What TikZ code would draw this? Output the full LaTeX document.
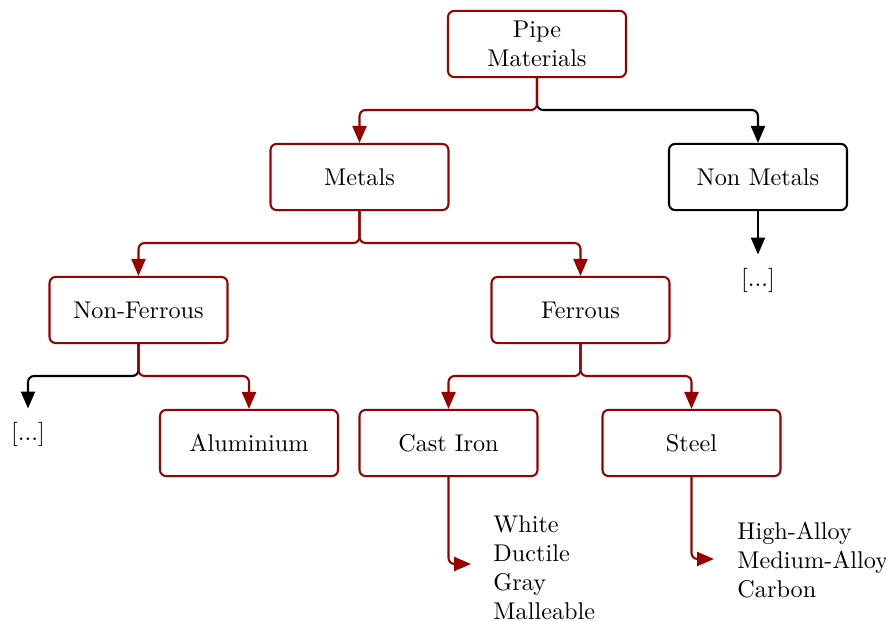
\documentclass[tikz,border=0pt]{standalone}
\usetikzlibrary{arrows.meta}
\definecolor{dred}{RGB}{153,0,0}
\begin{document}
\begin{tikzpicture}[x=0.413pt,y=-0.413pt,
  box/.style={draw=dred,line width=0.85pt,rounded corners=2.5pt,minimum width=73.5pt,minimum height=27.3pt,align=center,inner sep=2pt},
  bbox/.style={box,draw=black},
  conn/.style={draw=dred,line width=0.85pt,rounded corners=2.5pt,-{Triangle[length=7pt,width=5.8pt]}},
  bconn/.style={conn,draw=black},
  leaf/.style={align=left,anchor=west,inner sep=0pt}]
\useasboundingbox (0,0) rectangle (886,621);
\node[box] (pipe) at (537,44) {Pipe\\Materials};
\node[box] (metals) at (359.5,177) {Metals};
\node[bbox] (nonmetals) at (758,177) {Non Metals};
\node[box] (nonferrous) at (138.5,310) {Non-Ferrous};
\node[box] (ferrous) at (580.5,310) {Ferrous};
\node[box] (alu) at (249,443) {Aluminium};
\node[box] (cast) at (448.5,443) {Cast Iron};
\node[box] (steel) at (691.5,443) {Steel};
\node (nmmore) at (758,280) {[...]};
\node (nfmore) at (28,434) {[...]};
\node[leaf] (castlist) at (493,568) {White\\Ductile\\Gray\\Malleable};
\node[leaf] (steellist) at (737,560) {High-Alloy\\Medium-Alloy\\Carbon};
\coordinate (castend) at (471,564);
\coordinate (steelend) at (714,559);
% connectors
\draw[bconn] (pipe.south) |- (647,110) -| (nonmetals.north);
\draw[conn] (pipe.south) |- (450,110) -| (metals.north);
\draw[conn] (metals.south) |- (470,243) -| (ferrous.north);
\draw[conn] (metals.south) |- (250,243) -| (nonferrous.north);
\draw[bconn] (nonferrous.south) |- (80,376) -| ([yshift=2pt]nfmore.north);
\draw[conn] (nonferrous.south) |- (200,376) -| (alu.north);
\draw[conn] (ferrous.south) |- (520,376) -| (cast.north);
\draw[conn] (ferrous.south) |- (640,376) -| (steel.north);
\draw[bconn] (nonmetals.south) -- ([yshift=2pt]nmmore.north);
\draw[conn] (cast.south) |- (castend);
\draw[conn] (steel.south) |- (steelend);
\end{tikzpicture}
\end{document}
